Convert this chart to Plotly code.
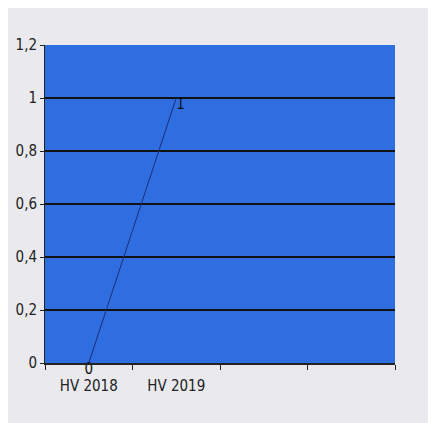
import plotly.graph_objects as go

categories = ["HV 2018", "HV 2019", " ", "  "]
series_x = ["HV 2018", "HV 2019"]
series_values = [0, 1]
y_ticks = [0, 0.2, 0.4, 0.6, 0.8, 1.0, 1.2]

font_family = "DejaVu Sans Condensed, Liberation Sans Narrow, Arial Narrow, Liberation Sans, sans-serif"

fig = go.Figure()
fig.add_trace(go.Scatter(
    x=series_x, y=series_values,
    mode="lines+text",
    line=dict(color="#1c2f78", width=1),
    text=[str(v) for v in series_values],
    textposition=["bottom center", "bottom right"],
    textfont=dict(family=font_family, size=15, color="#111111"),
    cliponaxis=False,
    showlegend=False,
))

fig.update_layout(
    width=436, height=423,
    margin=dict(l=37, r=49, t=37, b=68),
    paper_bgcolor="#e9e9ee",
    plot_bgcolor="#2e6ee0",
    separators=",.",
    font=dict(family=font_family, size=15, color="#222222"),
    xaxis=dict(
        type="category",
        categoryorder="array",
        categoryarray=categories,
        range=[-0.5, 3.5],
        tickson="boundaries",
        ticks="outside", ticklen=5, tickcolor="#222222", tickwidth=1,
        ticklabelstandoff=8,
        showline=True, linecolor="#222222", linewidth=1.5,
        showgrid=False, zeroline=False, automargin=False,
        tickfont=dict(family=font_family, size=15, color="#222222"),
    ),
    yaxis=dict(
        range=[0, 1.2],
        tickvals=y_ticks,
        ticktext=[("%g" % v).replace(".", ",") for v in y_ticks],
        ticks="outside", ticklen=4, tickcolor="#222222",
        showline=True, linecolor="#222222", linewidth=1,
        showgrid=True, gridcolor="#111111", gridwidth=2,
        zeroline=False, automargin=False,
        tickfont=dict(family=font_family, size=15, color="#222222"),
    ),
)

fig.write_html("out.html")
